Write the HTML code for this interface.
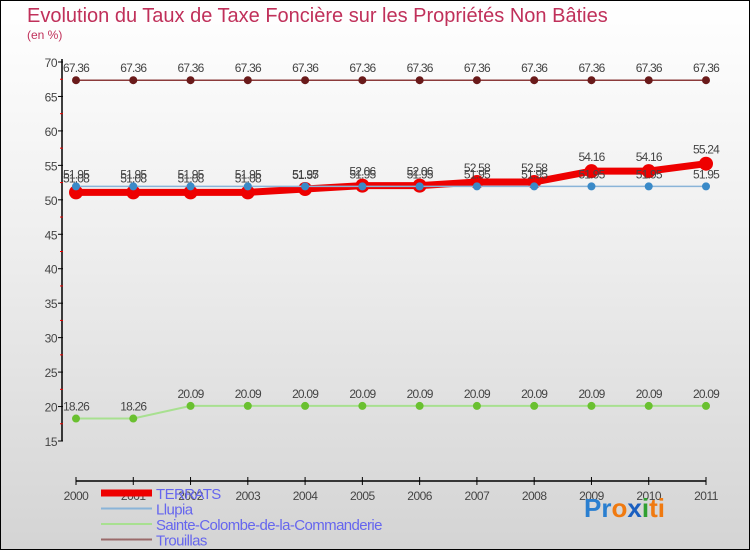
<!DOCTYPE html>
<html><head><meta charset="utf-8"><style>
body{margin:0;}
#c{width:748px;height:548px;border:1px solid #000;background:linear-gradient(#ffffff,#f0f0f0 40%,#d4d4d4);position:relative;overflow:hidden;font-family:"Liberation Sans",sans-serif;}
</style></head><body>
<div id="c">
<svg id="s" width="748" height="548" xmlns="http://www.w3.org/2000/svg">
<text x="26" y="21" font-size="20" fill="#c0305a">Evolution du Taux de Taxe Foncière sur les Propriétés Non Bâties</text>
<text x="26" y="38" font-size="12" fill="#c0305a">(en %)</text>
<g id="axes"></g><g id="series"></g><g id="legend"></g>
<text x="583" y="516" font-size="26" font-weight="bold"><tspan fill="#2a7fd0">Pr</tspan><tspan fill="#f07a10">o</tspan><tspan fill="#1a5fc0">x</tspan><tspan fill="#30a030">i</tspan><tspan fill="#f07a10">ti</tspan></text>
</svg></div>
<script>
const years=[2000,2001,2002,2003,2004,2005,2006,2007,2008,2009,2010,2011];
const terrats=[51.08,51.08,51.08,51.08,51.57,52.06,52.06,52.58,52.58,54.16,54.16,55.24];
const llupia=[51.95,51.95,51.95,51.95,51.95,51.95,51.95,51.95,51.95,51.95,51.95,51.95];
const sainteColombe=[18.26,18.26,20.09,20.09,20.09,20.09,20.09,20.09,20.09,20.09,20.09,20.09];
const trouillas=[67.36,67.36,67.36,67.36,67.36,67.36,67.36,67.36,67.36,67.36,67.36,67.36];
const yTicks=[15,20,25,30,35,40,45,50,55,60,65,70];
const NS="http://www.w3.org/2000/svg";
function xS(i){return 75+i*(630/11);}
function yS(v){return 440-(v-15)*(379/55);}
function mk(t,a,p){const e=document.createElementNS(NS,t);for(const k in a)e.setAttribute(k,a[k]);p.appendChild(e);return e;}
const ax=document.getElementById('axes');
let l=mk('line',{x1:61,y1:58,x2:61,y2:440,stroke:'#000','stroke-width':1.5},ax);


yTicks.forEach(v=>{
 const y=yS(v);
 mk('line',{x1:57,y1:y,x2:62,y2:y,stroke:'#000'},ax);
 if(v<70) mk('line',{x1:59,y1:yS(v+2.5),x2:62,y2:yS(v+2.5),stroke:'#e00'},ax);
 const t=mk('text',{x:56,y:y+5,'font-size':12,fill:'#444','text-anchor':'end','letter-spacing':'-0.5'},ax);
 t.textContent=v;
 
 
});
l=mk('line',{x1:75,y1:480,x2:705,y2:480,stroke:'#000','stroke-width':1.5},ax);


years.forEach((yr,i)=>{
 const x=xS(i);
 mk('line',{x1:x,y1:476,x2:x,y2:484,stroke:'#000'},ax);
 const t=mk('text',{x:x,y:499,'font-size':12,fill:'#444','text-anchor':'middle','letter-spacing':'-0.5'},ax);
 t.textContent=yr;
 
 
});
const sg=document.getElementById('series');
function series(vals,name,color,dot,w,r,labelOff){
 const g=mk('g',{},sg);
 
 
 const pl=mk('polyline',{points:vals.map((v,i)=>xS(i)+','+yS(v)).join(' '),fill:'none',stroke:color,'stroke-width':w},g);
 
 
 vals.forEach((v,i)=>{
  const c=mk('circle',{cx:xS(i),cy:yS(v),r:r,fill:dot},g);
  
  
  const t=mk('text',{x:xS(i),y:yS(v)+labelOff,'font-size':12,fill:'#444','text-anchor':'middle','letter-spacing':'-0.8'},g);
  t.textContent=v.toFixed(2).replace(/\.?0+$/,'')==v.toFixed(2)?v.toFixed(2):v.toFixed(2);
  
  
 });
}
series(trouillas,'trouillas','#8b3a3a','#6a1a1a',1.5,4,-8);
series(sainteColombe,'sainte-colombe','#a8e090','#6ac030',2,4,-8);
series(terrats,'terrats','#ee0000','#ee0000',7,7,-10);
series(llupia,'llupia','#8ab4d8','#3a8ac8',1.5,4,-8);
const lg=document.getElementById('legend');
const items=[['TERRATS','#ee0000',7],['Llupia','#8ab4d8',2],['Sainte-Colombe-de-la-Commanderie','#a8e090',2],['Trouillas','#9a6a6a',2]];
items.forEach((it,i)=>{
 const y=492+i*15.5;
 const g=mk('g',{},lg);
 
 
 mk('line',{x1:100,y1:y,x2:151,y2:y,stroke:it[1],'stroke-width':it[2]},g);
 const t=mk('text',{x:155,y:y+6,'font-size':15,fill:'#6666ee','letter-spacing':'-0.6'},g);
 t.textContent=it[0];
 
 
});
</script>
</body></html>
